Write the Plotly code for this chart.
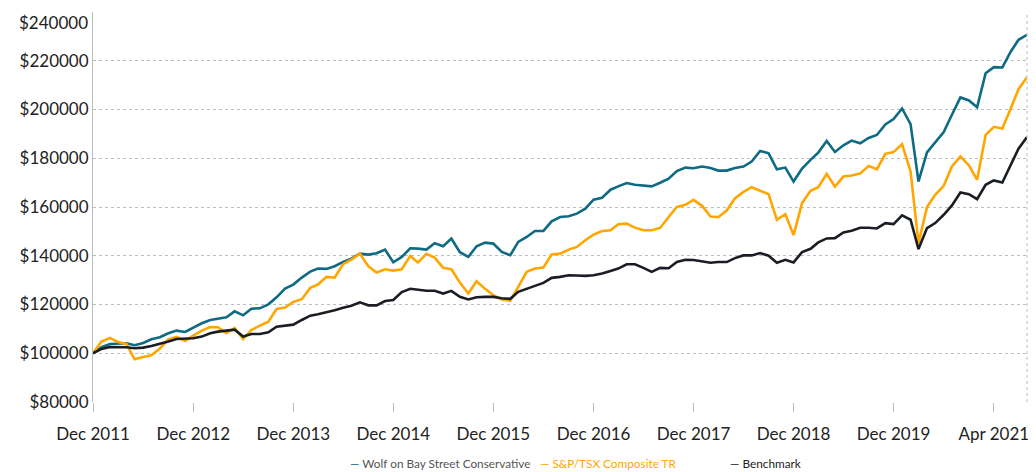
import pandas as pd
import plotly.graph_objects as go

dates = pd.date_range("2011-12-01", periods=113, freq="MS")

wolf = [
    100000, 102460, 103820, 103960, 104100, 103280, 104230, 105730, 106550, 108190,
    109280, 108740, 110650, 112290, 113650, 114200, 114740, 117200, 115560, 118290,
    118430, 120070, 122930, 126500, 128190, 131050, 133510, 134740, 134600, 135690,
    137470, 138830, 140880, 140470, 141020, 142520, 137330, 139520, 143070, 142930,
    142520, 145120, 143890, 147030, 141430, 139520, 143890, 145390, 144980, 141570,
    140200, 145660, 147710, 150170, 150170, 154130, 155900, 156170, 157270, 159310,
    163000, 163820, 167090, 168460, 169820, 169140, 168870, 168460, 169960, 171600,
    174740, 176170, 175900, 176580, 176040, 174940, 174940, 176040, 176580, 178630,
    183000, 182040, 175490, 176170, 170440, 175760, 179310, 182320, 187090, 182590,
    185320, 187230, 186140, 188320, 189550, 193860, 196050, 200420, 193990, 170480,
    182380, 186610, 190720, 197820, 204930, 203700, 200970, 214910, 217370, 217240,
    223800, 228580, 230630,
]

sptsx = [
    100000, 104780, 106280, 104640, 103820, 97540, 98500, 99180, 101910, 105730,
    106690, 105050, 107240, 109280, 110790, 110650, 108190, 110380, 105870, 109550,
    111330, 112960, 118150, 118770, 121090, 122180, 126830, 128190, 131330, 131050,
    136520, 138430, 140880, 135690, 133100, 134470, 133920, 134470, 139930, 137200,
    140750, 139250, 135020, 134470, 129010, 124500, 129560, 126420, 123820, 122050,
    121500, 127230, 133380, 134740, 135150, 140480, 140880, 142520, 143620, 146350,
    148670, 150170, 150440, 152900, 153170, 151530, 150440, 150440, 151400, 155900,
    159990, 160880, 162930, 160480, 156110, 155830, 158560, 163480, 166210, 168120,
    166620, 165250, 154740, 157060, 148460, 161570, 166620, 168120, 173580, 168390,
    172490, 172900, 173720, 176860, 175490, 181830, 182510, 185790, 174590, 145190,
    159960, 165020, 168710, 176640, 180740, 177050, 171170, 189620, 192900, 192220,
    200560, 208350, 213270,
]

benchmark = [
    100000, 101770, 102590, 102590, 102460, 102050, 102320, 103000, 103820, 104780,
    105870, 106010, 106140, 106830, 108190, 108870, 109420, 109690, 106830, 107920,
    107920, 108600, 110920, 111470, 111740, 113650, 115420, 115970, 116650, 117610,
    118700, 119520, 120890, 119660, 119660, 121430, 121840, 125120, 126480, 126070,
    125660, 125660, 124500, 125600, 123140, 122050, 123000, 123140, 123140, 122590,
    122320, 125190, 126550, 127640, 128870, 130920, 131330, 132010, 131880, 131740,
    132010, 132690, 133790, 134740, 136520, 136520, 135020, 133380, 135020, 134880,
    137470, 138360, 138230, 137820, 137130, 137410, 137410, 139040, 140140, 140140,
    141090, 140000, 137130, 138360, 137270, 141500, 142870, 145460, 147100, 147230,
    149560, 150240, 151470, 151470, 151190, 153400, 152990, 156540, 154760, 142730,
    151350, 153400, 156810, 160640, 165970, 165290, 163240, 169120, 170890, 170070,
    177320, 183880, 188670,
]

series_names = ["Wolf on Bay Street Conservative", "S&P/TSX Composite TR", "Benchmark"]

tick_dates = ["2011-12-01", "2012-12-01", "2013-12-01", "2014-12-01", "2015-12-01",
              "2016-12-01", "2017-12-01", "2018-12-01", "2019-12-01", "2020-12-01"]
tick_text = ["Dec 2011", "Dec 2012", "Dec 2013", "Dec 2014", "Dec 2015",
             "Dec 2016", "Dec 2017", "Dec 2018", "Dec 2019", "Apr 2021"]
y_ticks = [80000, 100000, 120000, 140000, 160000, 180000, 200000, 220000, 240000]
y_text = ["$" + str(v) for v in y_ticks]
# top label is drawn nudged inside the chart, as in the reference
y_text_axis = y_text[:-1] + [""]

TEAL = "#0f6a84"
ORANGE = "#ffa600"
BLACK = "#1a1e24"
line_colors = [TEAL, ORANGE, BLACK]
label_colors = ["#555555", "#ffa600", "#222222"]
legend_x = [0.2729, 0.4764, 0.6800]

fig = go.Figure()
for name, vals, col in zip(series_names, [wolf, sptsx, benchmark], line_colors):
    fig.add_trace(go.Scatter(x=dates, y=vals, mode="lines", name=name,
                             line=dict(color=col, width=2.6), showlegend=False))

legend_annotations = [
    dict(text=f"<span style='color:{lc}'>\u2014</span> <span style='color:{tc}'>{nm}</span>",
         xref="paper", yref="paper", x=lx, y=-0.158, xanchor="left", yanchor="middle",
         showarrow=False, font=dict(family="Lato", size=11.8))
    for nm, lc, tc, lx in zip(series_names, line_colors, label_colors, legend_x)
]

# the page body has an 8px default margin, so the figure is sized 8px smaller
fig.update_layout(
    width=1028, height=464,
    margin=dict(l=85, r=9, t=4, b=70, autoexpand=False),
    paper_bgcolor="white", plot_bgcolor="white",
    font=dict(family="Lato", size=17, color="#222222"),
    showlegend=False,
    xaxis=dict(
        type="date",
        range=["2011-12-01", "2021-04-01"],
        tickvals=tick_dates, ticktext=tick_text,
        ticks="outside", ticklen=9, tickcolor="#bbbbbb", tickwidth=1,
        showgrid=False, showline=False, zeroline=False,
        ticklabelstandoff=8, automargin=False,
    ),
    yaxis=dict(
        range=[80000, 240000],
        tickvals=y_ticks, ticktext=y_text_axis,
        showgrid=True, gridcolor="#bdbdbd", griddash="3px,3px", gridwidth=1,
        showline=True, linecolor="#bbbbbb", linewidth=1,
        zeroline=False, ticks="", automargin=False,
    ),
    annotations=[
        dict(text=y_text[-1], xref="paper", yref="paper", x=0, y=0.972,
             xanchor="right", yanchor="middle", xshift=-3, showarrow=False,
             font=dict(family="Lato", size=17, color="#222222")),
    ] + legend_annotations,
    shapes=[
        dict(type="line", xref="paper", yref="paper", x0=1, x1=1, y0=0, y1=1,
             line=dict(color="#bdbdbd", width=1, dash="3px,3px")),
    ],
)

fig.write_html("out.html")
